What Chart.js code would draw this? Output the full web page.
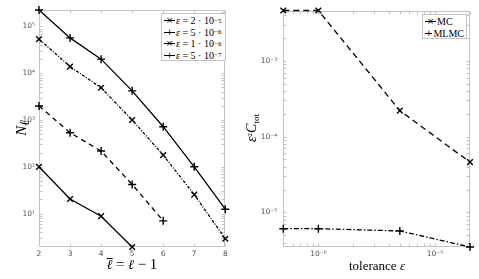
<!DOCTYPE html>
<html>
<head>
<meta charset="utf-8">
<script src="https://cdn.jsdelivr.net/npm/chart.js@4.4.1/dist/chart.umd.min.js"></script>
<style>
  html, body { margin: 0; padding: 0; background: #fff; }
  #wrap { position: relative; width: 479px; height: 279px; overflow: hidden; font-family: 'Liberation Serif', 'DejaVu Serif', serif; }
  canvas { position: absolute; top: 0; }
  #c-levels { left: 0; }
  #c-cost { left: 240px; }
  .lbl { position: absolute; color: #000; white-space: nowrap; line-height: 1; }
  .ytitle { transform: translate(-50%, -50%) rotate(-90deg); }
  .xtitle { transform: translateX(-50%); }
  .ell { font-family: 'DejaVu Serif', serif; font-style: italic; font-size: 0.9em; }
  .bar { display: inline-block; border-top: 1px solid #000; line-height: 0.85; }
  .legend { position: absolute; background: #fff; border: 1px solid #c4c4c4; font-size: 10px; padding: 0 2px; box-sizing: border-box; }
  .row { display: flex; align-items: center; height: 11.5px; white-space: nowrap; }
  .smp { position: relative; width: 11px; height: 0; border-top: 1.3px solid #000; margin-right: 1px; }
  .smp span { position: absolute; left: 50%; top: -1px; transform: translate(-50%, -50%); font: 9px 'DejaVu Sans', sans-serif; line-height: 9px; }
  sup { font-size: 7px; vertical-align: 4px; line-height: 0; }
  sub { font-size: 9px; vertical-align: -3px; line-height: 0; }
</style>
</head>
<body>
<div id="wrap">
  <canvas id="c-levels" width="240" height="279"></canvas>
  <canvas id="c-cost" width="239" height="279"></canvas>

  <div class="lbl ytitle" style="left:21px;top:128px;font-size:15px"><i>N</i><sub class="ell">ℓ</sub></div>
  <div class="lbl xtitle" style="left:132px;top:257px;font-size:15px"><span class="ell bar">ℓ</span> = <span class="ell">ℓ</span> − 1</div>
  <div class="lbl ytitle" style="left:252px;top:128px;font-size:14px"><i>ε</i><sup>2</sup><i>C</i><sub>tot</sub></div>
  <div class="lbl xtitle" style="left:377px;top:259px;font-size:13px">tolerance <i>ε</i></div>

  <div class="legend" style="left:161px;top:13px;width:65px;height:48px;padding-top:1px">
    <div class="row"><span class="smp"><span>×</span></span><i>ε</i>&nbsp;= 2 · 10<sup>−5</sup></div>
    <div class="row"><span class="smp"><span>+</span></span><i>ε</i>&nbsp;= 5 · 10<sup>−6</sup></div>
    <div class="row"><span class="smp"><span>×</span></span><i>ε</i>&nbsp;= 1 · 10<sup>−6</sup></div>
    <div class="row"><span class="smp"><span>+</span></span><i>ε</i>&nbsp;= 5 · 10<sup>−7</sup></div>
  </div>
  <div class="legend" style="left:422px;top:14px;width:45px;height:25px;padding-top:1px">
    <div class="row"><span class="smp"><span>×</span></span>MC</div>
    <div class="row"><span class="smp"><span>+</span></span>MLMC</div>
  </div>
</div>

<script>
// left panel: samples per level for each tolerance
const levels = [2, 3, 4, 5, 6, 7, 8];
const nEps2e5 = [100, 20.5, 8.8, 1.93];
const nEps5e6 = [2000, 536, 217, 42, 7.0];
const nEps1e6 = [53500, 13900, 4900, 1000, 178, 25.5, 2.9];
const nEps5e7 = [225000, 57000, 20000, 4200, 720, 100, 12.4];
const levelTicks = [2, 3, 4, 5, 6, 7, 8];
const levelYTicks = [1e1, 1e2, 1e3, 1e4, 1e5];

// right panel: scaled total cost vs tolerance
const tolerances = [5e-7, 1e-6, 5e-6, 2e-5];
const costMC = [4.6e-3, 4.6e-3, 2.2e-4, 4.6e-5];
const costMLMC = [6.1e-6, 6.1e-6, 5.7e-6, 3.5e-6];
const tolTicks = [1e-6, 1e-5];
const costTicks = [1e-5, 1e-4, 1e-3];

const AXIS = '#c4c4c4';
const TICKFONT = { family: "'DejaVu Sans', 'Liberation Sans', sans-serif", size: 7.5 };
const SUP = { '-': '⁻', '0': '⁰', '1': '¹', '2': '²', '3': '³', '4': '⁴', '5': '⁵', '6': '⁶', '7': '⁷', '8': '⁸', '9': '⁹' };
const pow10 = v => '10' + String(Math.round(Math.log10(v))).split('').map(c => SUP[c]).join('');

function minorsFor(min, max) {
  const out = [];
  for (let e = Math.floor(Math.log10(min)); e <= Math.ceil(Math.log10(max)); e++) {
    for (let m = 1; m < 10; m++) {
      const v = m * Math.pow(10, e);
      if (v >= min && v <= max) out.push(v);
    }
  }
  return out;
}

// axis box with inward ticks on all four sides, like the MATLAB default
const frame = {
  id: 'frame',
  beforeDatasetsDraw(chart) {
    const { ctx, chartArea: a, scales } = chart;
    const L = Math.round(a.left) + 0.5, R = Math.round(a.right) - 0.5;
    const T = Math.round(a.top) + 0.5, B = Math.round(a.bottom) - 0.5;
    ctx.save();
    ctx.strokeStyle = AXIS;
    ctx.lineWidth = 1;
    ctx.strokeRect(L, T, R - L, B - T);
    ctx.beginPath();
    const xs = scales.x, ys = scales.y;
    const xv = xs.type === 'logarithmic' ? minorsFor(xs.min, xs.max) : xs.ticks.map(t => t.value);
    const yv = ys.type === 'logarithmic' ? minorsFor(ys.min, ys.max) : ys.ticks.map(t => t.value);
    xv.forEach(v => {
      const p = Math.round(xs.getPixelForValue(v)) + 0.5;
      ctx.moveTo(p, B); ctx.lineTo(p, B - 3);
      ctx.moveTo(p, T); ctx.lineTo(p, T + 3);
    });
    yv.forEach(v => {
      const p = Math.round(ys.getPixelForValue(v)) + 0.5;
      ctx.moveTo(L, p); ctx.lineTo(L + 3, p);
      ctx.moveTo(R, p); ctx.lineTo(R - 3, p);
    });
    ctx.stroke();
    ctx.restore();
  }
};

const pts = (xs, ys) => ys.map((y, i) => ({ x: xs[i], y }));
const series = (data, style, dash) => ({
  data, borderColor: '#000', borderWidth: 1.3, borderDash: dash || [],
  pointStyle: style, pointRadius: 4, pointBorderWidth: 1.4, pointBorderColor: '#000',
  pointBackgroundColor: 'transparent', fill: false, tension: 0, clip: false
});

function baseOpts(yW, xH, padR, xScale, yScale) {
  return {
    responsive: false, animation: false, devicePixelRatio: 1,
    layout: { padding: { top: 10, right: padR, left: 0, bottom: 0 } },
    plugins: { legend: { display: false }, tooltip: { enabled: false } },
    scales: {
      x: Object.assign({
        grid: { display: false, drawTicks: false }, border: { display: false },
        ticks: { font: TICKFONT, color: '#555', padding: 3, maxRotation: 0, autoSkip: false },
        afterFit: s => { s.height = xH; }
      }, xScale),
      y: Object.assign({
        grid: { display: false, drawTicks: false }, border: { display: false },
        ticks: { font: TICKFONT, color: '#555', padding: 4, autoSkip: false, callback: v => pow10(v) },
        afterFit: s => { s.width = yW; }
      }, yScale)
    }
  };
}

const allN = [].concat(nEps2e5, nEps5e6, nEps1e6, nEps5e7);
new Chart(document.getElementById('c-levels'), {
  type: 'line',
  data: {
    datasets: [
      series(pts(levels, nEps2e5), 'crossRot'),
      series(pts(levels, nEps5e6), 'cross', [5, 4]),
      series(pts(levels, nEps1e6), 'crossRot', [3, 1.5, 1, 1.5]),
      series(pts(levels, nEps5e7), 'cross')
    ]
  },
  options: baseOpts(39, 32, 14.7,
    { type: 'linear', min: levels[0], max: levels[levels.length - 1],
      afterBuildTicks: s => { s.ticks = levelTicks.map(v => ({ value: v })); } },
    { type: 'logarithmic', min: Math.min(...allN), max: Math.max(...allN),
      afterBuildTicks: s => { s.ticks = levelYTicks.map(v => ({ value: v })); } }),
  plugins: [frame]
});

const allC = costMC.concat(costMLMC);
const costOpts = baseOpts(43.3, 32, 9,
  { type: 'logarithmic', min: Math.min(...tolerances), max: Math.max(...tolerances),
    afterBuildTicks: s => { s.ticks = tolTicks.map(v => ({ value: v })); } },
  { type: 'logarithmic', min: Math.min(...allC), max: Math.max(...allC),
    afterBuildTicks: s => { s.ticks = costTicks.map(v => ({ value: v })); } });
costOpts.scales.x.ticks.callback = v => pow10(v);
costOpts.scales.y.ticks.padding = 6;

new Chart(document.getElementById('c-cost'), {
  type: 'line',
  data: {
    datasets: [
      series(pts(tolerances, costMC), 'crossRot', [6, 4]),
      series(pts(tolerances, costMLMC), 'cross', [5, 2, 1.5, 2])
    ]
  },
  options: costOpts,
  plugins: [frame]
});
</script>
</body>
</html>
